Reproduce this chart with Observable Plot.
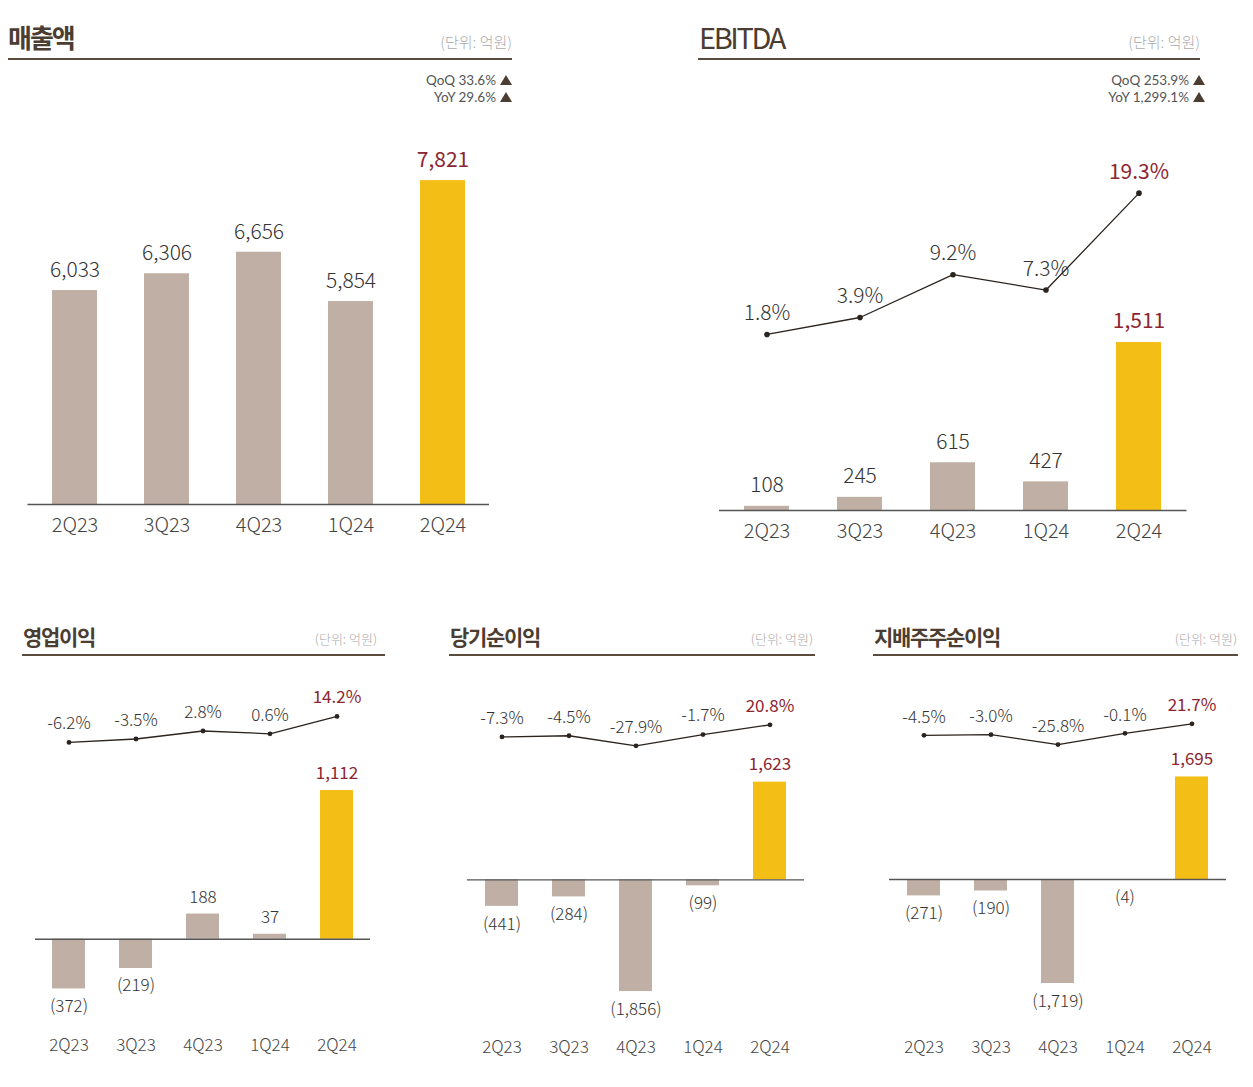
<!DOCTYPE html>
<html>
<head>
<meta charset="utf-8">
<script src="https://cdn.jsdelivr.net/npm/d3@7"></script>
<script src="https://cdn.jsdelivr.net/npm/@observablehq/plot@0.6"></script>
<style>
  html, body { margin: 0; padding: 0; background: #fff; }
  body { width: 1253px; height: 1087px; position: relative; overflow: hidden;
         font-family: "Noto Sans CJK KR", "Noto Sans", sans-serif; }
  .abs { position: absolute; white-space: nowrap; }
  .title { color: #4b3d31; font-weight: 700; }
  .unit { color: #ababab; text-align: right; font-weight: 300; }
  .rule { position: absolute; background: #5b4b3d; }
  .chg { font-family: Lato, "Noto Sans", sans-serif; color: #555; font-size: 13.5px; line-height: 15px;
         text-align: right; font-weight: 400; }
  .chg .tri { display: inline-block; width: 0; height: 0; margin-left: 4px; vertical-align: 0px;
              border-left: 6px solid transparent; border-right: 6px solid transparent;
              border-bottom: 10px solid #4b3d31; }
  svg { overflow: visible; }
</style>
</head>
<body>
<script>
// ---------------- data ----------------
const quarters = ["2Q23", "3Q23", "4Q23", "1Q24", "2Q24"];
const revenue = [6033, 6306, 6656, 5854, 7821];
const ebitda = [108, 245, 615, 427, 1511];
const ebitdaMargin = [1.8, 3.9, 9.2, 7.3, 19.3];
const opIncome = [-372, -219, 188, 37, 1112];
const opMargin = [-6.2, -3.5, 2.8, 0.6, 14.2];
const netIncome = [-441, -284, -1856, -99, 1623];
const netMargin = [-7.3, -4.5, -27.9, -1.7, 20.8];
const ctrlIncome = [-271, -190, -1719, -4, 1695];
const ctrlMargin = [-4.5, -3.0, -25.8, -0.1, 21.7];
const titles = ["매출액", "EBITDA", "영업이익", "당기순이익", "지배주주순이익"];
const unitLabel = "(단위: 억원)";
const revenueChange = ["QoQ 33.6%", "YoY 29.6%"];
const ebitdaChange = ["QoQ 253.9%", "YoY 1,299.1%"];

// ---------------- style ----------------
const TAUPE = "#bfafa4";
const YELLOW = "#f3bf17";
const RED = "#8c2531";
const TEXT = "#333333";
const AXIS = "#444444";
const LINE = "#2b231e";
const FONT = '"Noto Sans CJK KR", "Noto Sans", sans-serif';

const fmt = d3.format(",");
const valueLabel = v => v < 0 ? `(${fmt(-v)})` : fmt(v);
const pctLabel = m => `${m.toFixed(1)}%`;
const last = quarters[quarters.length - 1];

function place(el, left, top) {
  const wrap = document.createElement("div");
  wrap.className = "abs";
  wrap.style.left = left + "px";
  wrap.style.top = top + "px";
  wrap.appendChild(el);
  document.body.appendChild(wrap);
}

function addDiv(cls, html, css) {
  const d = document.createElement("div");
  d.className = "abs " + cls;
  d.innerHTML = html;
  Object.assign(d.style, css);
  document.body.appendChild(d);
  return d;
}

function barChart(p, values) {
  const rows = quarters.map((q, i) => ({ q, v: values[i] }));
  const pos = rows.filter(d => d.v >= 0 && d.q !== last);
  const hi = rows.filter(d => d.q === last);
  const neg = rows.filter(d => d.v < 0);
  const colorOf = d => d.q === last ? YELLOW : TAUPE;
  return Plot.plot({
    width: p.width, height: p.height,
    marginLeft: p.mL, marginRight: p.mR, marginTop: p.mT, marginBottom: p.mB,
    style: { fontFamily: FONT, background: "transparent", overflow: "visible" },
    x: { type: "band", domain: quarters, paddingInner: p.padIn, paddingOuter: p.padIn / 2, label: null },
    y: { ...p.y, axis: null },
    color: { type: "identity" },
    marks: [
      Plot.barY(rows, { x: "q", y: "v", fill: colorOf }),
      Plot.ruleY([0], { stroke: "#555", strokeWidth: 1.4 }),
      Plot.text(pos, { x: "q", y: "v", text: d => valueLabel(d.v), dy: -p.gap, fill: TEXT,
                       fontSize: p.labelFont, fontWeight: 300 }),
      Plot.text(hi, { x: "q", y: "v", text: d => valueLabel(d.v), dy: -p.gap, fill: RED,
                      fontSize: p.labelFont, fontWeight: 400 }),
      Plot.text(neg, { x: "q", y: "v", text: d => valueLabel(d.v), dy: p.gapNeg ?? p.gap, fill: TEXT,
                       fontSize: p.labelFont, fontWeight: 300 }),
      Plot.axisX({ tickSize: 0, tickPadding: p.tickPad, fontSize: p.axisFont, fill: AXIS, fontWeight: 300, label: null })
    ]
  });
}

function lineChart(p, margins) {
  const rows = quarters.map((q, i) => ({ q, m: margins[i] }));
  const rest = rows.filter(d => d.q !== last);
  const hi = rows.filter(d => d.q === last);
  return Plot.plot({
    width: p.width, height: p.height,
    marginLeft: p.mL, marginRight: p.mR, marginTop: p.mT, marginBottom: p.mB,
    style: { fontFamily: FONT, background: "transparent", overflow: "visible" },
    x: { type: "band", domain: quarters, paddingInner: p.padIn, paddingOuter: p.padIn / 2, axis: null },
    y: { type: "linear", domain: p.lineDomain, axis: null },
    marks: [
      Plot.line(rows, { x: "q", y: "m", stroke: LINE, strokeWidth: 1.3 }),
      Plot.dot(rows, { x: "q", y: "m", r: p.dotR, fill: LINE }),
      Plot.text(rest, { x: "q", y: "m", text: d => pctLabel(d.m), dy: -p.lineGap,
                        fill: TEXT, fontSize: p.labelFont, fontWeight: 300 }),
      Plot.text(hi, { x: "q", y: "m", text: d => pctLabel(d.m), dy: -p.lineGap,
                      fill: RED, fontSize: p.labelFont, fontWeight: 400 })
    ]
  });
}

// ---------------- panel layouts ----------------
const P1 = { left: 0, top: 120, width: 520, height: 420, mL: 27.5, mR: 31, mT: 20, mB: 36, padIn: 0.512,
  y: { type: "linear", domain: [2554, 8473], clamp: true }, gap: 20, labelFont: 21, axisFont: 20, tickPad: 13 };
const P2 = { left: 690, top: 120, width: 520, height: 420, mL: 29, mR: 23.5, mT: 20, mB: 30, padIn: 0.519,
  y: { type: "pow", exponent: 1.4, domain: [0, 2656] }, gap: 21, labelFont: 21, axisFont: 20, tickPad: 13,
  lineDomain: [-20.0, 25.82], lineGap: 21, dotR: 2.8 };
const P3 = { left: 0, top: 660, width: 400, height: 410, mL: 35, mR: 30, mT: 20, mB: 45, padIn: 0.507,
  y: { type: "linear", domain: [-645.5, 1935] }, gap: 17, gapNeg: 17.5, labelFont: 17, axisFont: 17, tickPad: 13,
  lineDomain: [-228.2, 42.4], lineGap: 18.5, dotR: 2.4 };
const P4 = { left: 430, top: 660, width: 400, height: 410, mL: 37, mR: 26, mT: 20, mB: 43, padIn: 0.507,
  y: { type: "linear", domain: [-2453, 3311] }, gap: 17.5, gapNeg: 17.8, labelFont: 17, axisFont: 17, tickPad: 13,
  lineDomain: [-681, 123.6], lineGap: 18.5, dotR: 2.4 };
const P5 = { left: 860, top: 660, width: 393, height: 410, mL: 29, mR: 27, mT: 20, mB: 43, padIn: 0.507,
  y: { type: "linear", domain: [-2446, 3289] }, gap: 17.5, gapNeg: 17.8, labelFont: 17, axisFont: 17, tickPad: 13,
  lineDomain: [-675, 121.2], lineGap: 18, dotR: 2.4 };

// ---------------- headers ----------------
// top panels
addDiv("title", titles[0], { left: "8px", top: "23px", fontSize: "26px", lineHeight: "28px", letterSpacing: "-2px" });
addDiv("title", titles[1], { left: "699px", top: "20px", fontSize: "29px", lineHeight: "32px", letterSpacing: "-2.4px", fontWeight: 400 });
[[8, 512], [698, 1200]].forEach(([a, b]) => {
  const r = document.createElement("div");
  r.className = "rule";
  Object.assign(r.style, { left: a + "px", width: (b - a) + "px", top: "58px", height: "2px" });
  document.body.appendChild(r);
});
addDiv("unit", unitLabel, { right: (1253 - 512) + "px", top: "33px", fontSize: "15px", lineHeight: "18px" });
addDiv("unit", unitLabel, { right: (1253 - 1200) + "px", top: "33px", fontSize: "15px", lineHeight: "18px" });
revenueChange.forEach((t, i) =>
  addDiv("chg", `${t}<span class="tri"></span>`, { right: (1253 - 512) + "px", top: (73 + i * 17) + "px" }));
ebitdaChange.forEach((t, i) =>
  addDiv("chg", `${t}<span class="tri"></span>`, { right: (1253 - 1205) + "px", top: (73 + i * 17) + "px" }));

// bottom panels
[[22, 385, 377], [449, 815, 813], [873, 1238, 1237]].forEach(([a, b, u], i) => {
  addDiv("title", titles[i + 2], { left: (a + 1) + "px", top: "624px", fontSize: "21px", lineHeight: "24px", letterSpacing: "-1.3px" });
  const r = document.createElement("div");
  r.className = "rule";
  Object.assign(r.style, { left: a + "px", width: (b - a) + "px", top: "654px", height: "1.6px" });
  document.body.appendChild(r);
  addDiv("unit", unitLabel, { right: (1253 - u) + "px", top: "631px", fontSize: "13px", lineHeight: "16px" });
});

// ---------------- charts ----------------
place(barChart(P1, revenue), P1.left, P1.top);
place(barChart(P2, ebitda), P2.left, P2.top);
place(lineChart(P2, ebitdaMargin), P2.left, P2.top);
place(barChart(P3, opIncome), P3.left, P3.top);
place(lineChart(P3, opMargin), P3.left, P3.top);
place(barChart(P4, netIncome), P4.left, P4.top);
place(lineChart(P4, netMargin), P4.left, P4.top);
place(barChart(P5, ctrlIncome), P5.left, P5.top);
place(lineChart(P5, ctrlMargin), P5.left, P5.top);
</script>
</body>
</html>
